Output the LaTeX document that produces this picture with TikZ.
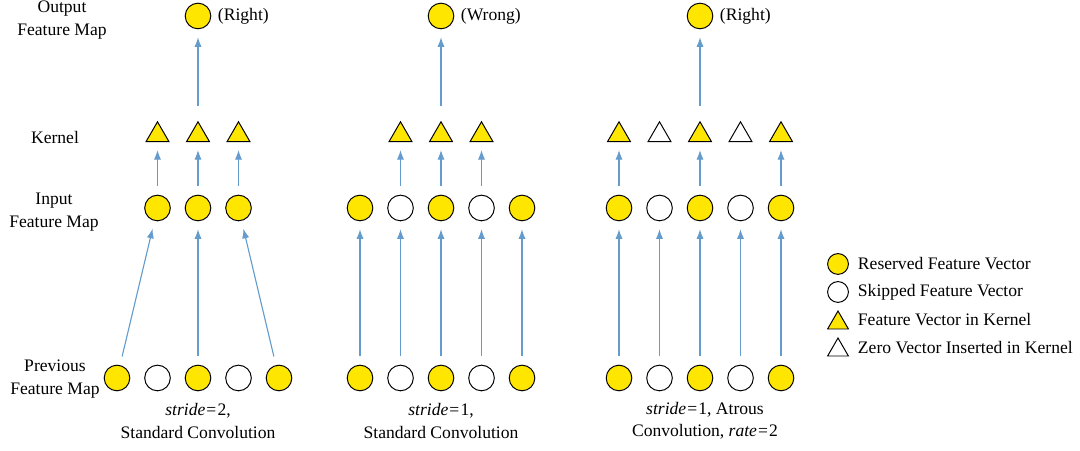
\documentclass[tikz,border=0pt]{standalone}
\usepackage{fontspec}
\setmainfont{Liberation Serif}
\usetikzlibrary{shapes.geometric,arrows.meta}
\definecolor{vecyellow}{RGB}{255,230,0}
\definecolor{flowblue}{RGB}{100,156,206}
\tikzset{
  reserved/.style={circle, draw=black, line width=0.7pt, fill=vecyellow, minimum size=0.64cm, inner sep=0pt},
  skipped/.style={reserved, fill=white},
  inkernel/.style={regular polygon, regular polygon sides=3, draw=black, line width=0.7pt, fill=vecyellow, minimum size=0.66cm, inner sep=0pt},
  zerokernel/.style={inkernel, fill=white},
  flow/.style={draw=flowblue, line width=0.8pt, -{Latex[length=2.4mm,width=1.8mm]}, shorten <=0.22cm, shorten >=0.2cm},
}
\newcommand{\eqsign}{\kern0.8pt=\kern0.8pt}
\begin{document}
\begin{tikzpicture}[x=0.025cm, y=-0.025cm, font=\fontsize{12.5}{16}\selectfont]
    \useasboundingbox (0,0) rectangle (1080,451);
    % row labels
    \node[align=center] (lblout) at (62,20) {Output\\Feature Map};
    \node (lblker) at (55,137) {Kernel};
    \node[align=center] (lblin) at (54,212) {Input\\Feature Map};
    \node[align=center] (lblprev) at (55,379) {Previous\\Feature Map};

    % panel A: stride 2
    \foreach \i/\s in {1/reserved,2/skipped,3/reserved,4/skipped,5/reserved}
        \node[\s] (prevA\i) at ({198+(\i-3)*40.5},378) {};
    \foreach \i in {1,2,3} {
        \node[reserved] (inA\i) at ({198+(\i-2)*40.5},208) {};
        \node[inkernel] (kerA\i) at ({198+(\i-2)*40.5},135) {};
        \draw[flow] (inA\i) -- (kerA\i);
    }
    \node[reserved] (outA) at (198,16) {};
    \node[anchor=west] (resA) at (213,16) {(Right)};
    \draw[flow] (prevA1) -- (inA1);
    \draw[flow] (prevA3) -- (inA2);
    \draw[flow] (prevA5) -- (inA3);
    \draw[flow, shorten <=0.37cm] (kerA2) -- (outA);
    \node[align=center] (capA) at (198,421) {\textit{stride}\eqsign2,\\Standard Convolution};

    % panel B: stride 1, standard
    \foreach \i/\s in {1/reserved,2/skipped,3/reserved,4/skipped,5/reserved} {
        \node[\s] (prevB\i) at ({441+(\i-3)*40.5},378) {};
        \node[\s] (inB\i) at ({441+(\i-3)*40.5},208) {};
        \draw[flow] (prevB\i) -- (inB\i);
    }
    \foreach \i/\j in {1/2,2/3,3/4} {
        \node[inkernel] (kerB\i) at ({441+(\i-2)*40.5},135) {};
        \draw[flow] (inB\j) -- (kerB\i);
    }
    \node[reserved] (outB) at (441,16) {};
    \node[anchor=west] (resB) at (456,16) {(Wrong)};
    \draw[flow, shorten <=0.37cm] (kerB2) -- (outB);
    \node[align=center] (capB) at (441,421) {\textit{stride}\eqsign1,\\Standard Convolution};

    % panel C: atrous
    \foreach \i/\s/\k in {1/reserved/inkernel,2/skipped/zerokernel,3/reserved/inkernel,4/skipped/zerokernel,5/reserved/inkernel} {
        \node[\s] (prevC\i) at ({700+(\i-3)*40.5},378) {};
        \node[\s] (inC\i) at ({700+(\i-3)*40.5},208) {};
        \node[\k] (kerC\i) at ({700+(\i-3)*40.5},135) {};
        \draw[flow] (prevC\i) -- (inC\i);
    }
    \foreach \i in {1,3,5}
        \draw[flow] (inC\i) -- (kerC\i);
    \node[reserved] (outC) at (700,16) {};
    \node[anchor=west] (resC) at (715,16) {(Right)};
    \draw[flow, shorten <=0.37cm] (kerC3) -- (outC);
    \node[align=center] (capC) at (705,421) {\textit{stride}\eqsign1, Atrous\\Convolution, \textit{rate}\eqsign2};

    % legend
    \node[reserved, minimum size=0.52cm] (legA) at (838,264) {};
    \node[skipped, minimum size=0.52cm] (legB) at (838,292) {};
    \node[inkernel, minimum size=0.6cm] (legC) at (838,323) {};
    \node[zerokernel, minimum size=0.6cm] (legD) at (838,350) {};
    \node[anchor=west] (txtA) at (853,264) {Reserved Feature Vector};
    \node[anchor=west] (txtB) at (853,292) {Skipped Feature Vector};
    \node[anchor=west] (txtC) at (853,320) {Feature Vector in Kernel};
    \node[anchor=west] (txtD) at (853,348) {Zero Vector Inserted in Kernel};
\end{tikzpicture}
\end{document}
